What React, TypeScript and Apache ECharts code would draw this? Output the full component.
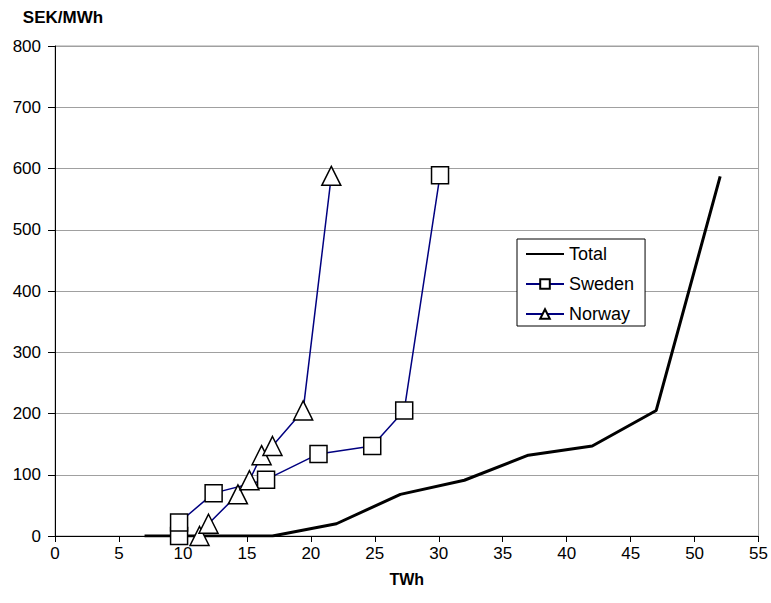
import React, { useEffect, useRef } from "react";
import * as echarts from "echarts";

const totalX = [7, 17, 22, 27, 32, 37, 42, 47, 52];
const totalY = [0, 0, 20, 68, 91, 132, 147, 205, 587];
const swedenX = [9.7, 9.7, 12.4, 16.5, 20.6, 24.8, 27.3, 30.1];
const swedenY = [0, 22, 70, 92, 134, 147, 205, 589];
const norwayX = [11.3, 12.0, 14.3, 15.2, 16.15, 17.0, 19.4, 21.6];
const norwayY = [0, 20, 68, 91, 132, 147, 205, 588];
const seriesNames = ["Total", "Sweden", "Norway"];

const pairs = (xs: number[], ys: number[]) => xs.map((x, i) => [x, ys[i]]);

const FONT = "'Liberation Sans', Arial, sans-serif";

export default function App() {
  const ref = useRef<HTMLDivElement>(null);
  useEffect(() => {
    if (!ref.current) return;
    const chart = echarts.init(ref.current, null, { renderer: "svg" });
    chart.setOption({
      animation: false,
      backgroundColor: "#fff",
      textStyle: { fontFamily: FONT },
      grid: {
        left: 55,
        right: 12,
        top: 46,
        bottom: 67,
        show: true,
        borderColor: "#a0a0a0",
        borderWidth: 1,
      },
      legend: {
        orient: "vertical",
        align: "left",
        left: 517,
        top: 239,
        backgroundColor: "#fff",
        borderColor: "#000",
        borderWidth: 1,
        borderRadius: 0,
        padding: [6, 11, 3, 8],
        itemWidth: 38,
        itemHeight: 12,
        itemGap: 12,
        textStyle: { fontSize: 18, color: "#000", fontFamily: FONT },
        data: [
          {
            name: seriesNames[0],
            itemStyle: { color: "rgba(0,0,0,0)", borderColor: "rgba(0,0,0,0)" },
          },
          { name: seriesNames[1] },
          { name: seriesNames[2] },
        ],
      },
      xAxis: {
        type: "value",
        min: 0,
        max: 55,
        interval: 5,
        name: "TWh",
        nameLocation: "middle",
        nameGap: 35,
        nameTextStyle: { fontSize: 16, fontWeight: "bold", color: "#000", fontFamily: FONT },
        axisLine: { show: true, lineStyle: { color: "#000", width: 1 } },
        axisTick: { show: true, length: 6, lineStyle: { color: "#000" } },
        axisLabel: { fontSize: 17, color: "#000", margin: 9, fontFamily: FONT },
        splitLine: { show: false },
      },
      yAxis: {
        type: "value",
        min: 0,
        max: 800,
        interval: 100,
        name: "SEK/MWh",
        nameLocation: "end",
        nameGap: 20,
        nameTextStyle: {
          fontSize: 17,
          fontWeight: "bold",
          color: "#000",
          fontFamily: FONT,
          align: "center",
          padding: [0, 0, 0, 16],
        },
        axisLine: { show: true, lineStyle: { color: "#000", width: 1 } },
        axisTick: { show: true, length: 7, lineStyle: { color: "#000" } },
        axisLabel: { fontSize: 17, color: "#000", margin: 14, fontFamily: FONT },
        splitLine: { show: true, lineStyle: { color: "#a0a0a0", width: 1 } },
      },
      series: [
        {
          name: seriesNames[0],
          type: "line",
          data: pairs(totalX, totalY),
          symbol: "none",
          lineStyle: { color: "#000", width: 3 },
          itemStyle: { color: "#000" },
          z: 2,
        },
        {
          name: seriesNames[1],
          type: "line",
          data: pairs(swedenX, swedenY),
          symbol: "rect",
          symbolSize: 17,
          lineStyle: { color: "#000080", width: 1.5 },
          itemStyle: { color: "#fff", borderColor: "#000", borderWidth: 1.5 },
          z: 3,
        },
        {
          name: seriesNames[2],
          type: "line",
          data: pairs(norwayX, norwayY),
          symbol: "triangle",
          symbolSize: 19,
          lineStyle: { color: "#000080", width: 1.5 },
          itemStyle: { color: "#fff", borderColor: "#000", borderWidth: 1.5 },
          z: 4,
        },
      ],
    });
    return () => chart.dispose();
  }, []);
  return (
    <div
      ref={ref}
      style={{ position: "fixed", left: 0, top: 0, width: 771, height: 603 }}
    />
  );
}
